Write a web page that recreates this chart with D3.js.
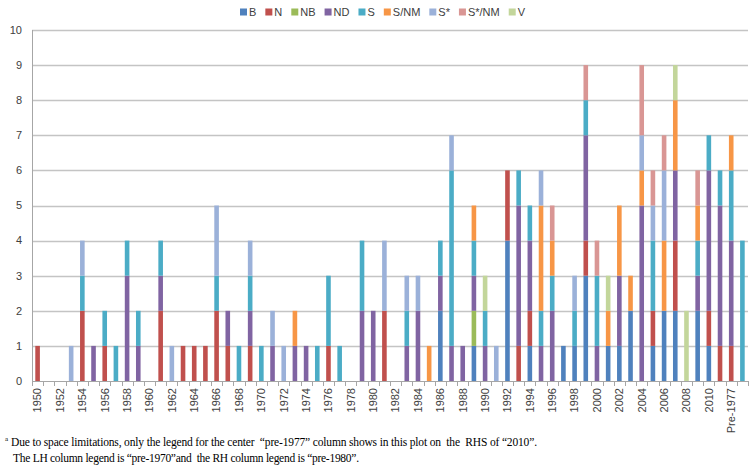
<!DOCTYPE html>
<html>
<head>
<meta charset="utf-8">
<script src="https://cdn.jsdelivr.net/npm/d3@7"></script>
<style>
  body { margin: 0; background: #fff; }
  svg text { font-family: "Liberation Sans", Arial, sans-serif; }
  svg .note text { font-family: "Liberation Serif", "Times New Roman", serif; white-space: pre; }
</style>
</head>
<body>
<div class="chart-container"></div>
<script>
document.addEventListener('DOMContentLoaded', function() {

    // categories: 1950..2010, then the three "pre" columns
    const years = d3.range(1950, 2011).map(String);
    const categories = years.concat(["Pre-1970", "Pre-1977", "Pre-1980"]);

    const seriesNames = ["B", "N", "NB", "ND", "S", "S/NM", "S*", "S*/NM", "V"];
    const seriesColors = ["#4f81bd", "#c0504d", "#9bbb59", "#8064a2", "#4bacc6", "#f79646", "#9bb1d9", "#d99694", "#c3d69b"];

    // one value per category, in category order (1950 ... 2010, pre-1970, pre-1977, pre-1980)
    const B = [0,0,0,0,0,0,0,0,0,0, 0,0,0,0,0,0,0,0,0,0, 0,0,0,0,0,0,0,0,0,0,
               0,0,0,0,0,0,2,0,0,1, 0,0,4,0,1,0,0,1,1,3, 0,1,1,2,0,1,2,2,0,2, 1, 0,0,0];
    const N = [1,0,0,0,2,0,1,0,0,0, 0,2,0,1,1,1,2,1,0,1, 0,0,0,0,0,0,1,0,0,0,
               0,2,0,0,0,0,0,0,0,0, 0,0,2,1,1,0,0,0,0,1, 0,0,0,0,0,1,0,2,0,0, 1, 1,1,0];
    const NB = [0,0,0,0,0,0,0,0,0,0, 0,0,0,0,0,0,0,0,0,0, 0,0,0,0,0,0,0,0,0,0,
               0,0,0,0,0,0,0,0,0,1, 0,0,0,0,0,0,0,0,0,0, 0,0,0,0,0,0,0,0,0,0, 0, 0,0,0];
    const ND = [0,0,0,0,0,1,0,0,3,1, 0,1,0,0,0,0,0,1,0,1, 0,1,0,1,1,0,0,0,0,2,
               2,0,0,1,2,0,1,1,1,1, 1,0,0,4,2,1,2,0,0,3, 1,0,2,0,5,0,0,2,0,1, 4, 4,3,0];
    const S = [0,0,0,0,1,0,1,1,1,1, 0,1,0,0,0,0,1,0,1,1, 1,0,0,0,0,1,2,1,0,2,
               0,0,0,1,0,0,1,5,0,1, 1,0,0,1,1,1,1,0,1,1, 2,0,0,0,0,2,0,0,0,1, 1, 1,2,4];
    const SNM = [0,0,0,0,0,0,0,0,0,0, 0,0,0,0,0,0,0,0,0,0, 0,0,0,1,0,0,0,0,0,0,
               0,0,0,0,0,1,0,0,0,1, 0,0,0,0,0,3,1,0,0,0, 0,1,2,1,1,0,2,2,0,1, 0, 0,1,0];
    const Sstar = [0,0,0,1,1,0,0,0,0,0, 0,0,1,0,0,0,2,0,0,1, 0,1,1,0,0,0,0,0,0,0,
               0,2,0,1,1,0,0,1,0,0, 0,1,0,0,0,1,0,0,1,0, 0,0,0,0,1,1,2,0,0,0, 0, 0,0,0];
    const SstarNM = [0,0,0,0,0,0,0,0,0,0, 0,0,0,0,0,0,0,0,0,0, 0,0,0,0,0,0,0,0,0,0,
               0,0,0,0,0,0,0,0,0,0, 0,0,0,0,0,0,1,0,0,1, 1,0,0,0,2,1,1,0,0,1, 0, 0,0,0];
    const V = [0,0,0,0,0,0,0,0,0,0, 0,0,0,0,0,0,0,0,0,0, 0,0,0,0,0,0,0,0,0,0,
               0,0,0,0,0,0,0,0,0,0, 1,0,0,0,0,0,0,0,0,0, 0,1,0,0,0,0,0,1,2,0, 0, 0,0,0];

    const yTicks = d3.range(0, 11);

    const seriesValues = [B, N, NB, ND, S, SNM, Sstar, SstarNM, V];

    const table = categories.map((c, i) => {
        const row = { cat: c };
        seriesNames.forEach((s, k) => row[s] = seriesValues[k][i]);
        return row;
    });

    const width = 750, height = 471;

    const svg = d3.select(".chart-container")
        .append("svg")
        .attr("width", width)
        .attr("height", height);

    // one band per category, ticks sit on the band edges
    const xStep = d3.scaleBand().domain(categories).range([32, 748]);

    const y = d3.scaleLinear()
        .domain([0, 10])
        .range([381, 30]);

    const color = d3.scaleOrdinal().domain(seriesNames).range(seriesColors);

    // gridlines
    svg.append("g")
        .selectAll("line")
        .data(yTicks.slice(1))
        .join("line")
        .attr("x1", 32)
        .attr("x2", 748)
        .attr("y1", d => Math.round(y(d)) + 0.5)
        .attr("y2", d => Math.round(y(d)) + 0.5)
        .attr("stroke", "#c4c4c4")
        .attr("stroke-width", 1.3);

    // stacked bars
    const stacked = d3.stack().keys(seriesNames)(table);

    svg.append("g")
        .selectAll("g")
        .data(stacked)
        .join("g")
        .attr("fill", d => color(d.key))
        .selectAll("rect")
        .data(d => d.filter(e => e[1] > e[0]))
        .join("rect")
        .attr("x", d => xStep(d.data.cat) + xStep.bandwidth() / 2 - 2.3)
        .attr("width", 4.6)
        .attr("y", d => y(d[1]))
        .attr("height", d => y(d[0]) - y(d[1]));

    // y axis
    svg.append("line")
        .attr("x1", 32.5).attr("x2", 32.5)
        .attr("y1", y(10)).attr("y2", y(0))
        .attr("stroke", "#a6a6a6");

    svg.append("g")
        .selectAll("text")
        .data(yTicks)
        .join("text")
        .attr("x", 22)
        .attr("y", d => y(d))
        .attr("dy", "0.35em")
        .attr("text-anchor", "end")
        .attr("font-size", 11)
        .attr("fill", "#404040")
        .text(d => d);

    // x axis
    svg.append("line")
        .attr("x1", 32).attr("x2", 748)
        .attr("y1", 381.5).attr("y2", 381.5)
        .attr("stroke", "#a6a6a6");

    svg.append("g")
        .selectAll("line")
        .data(categories.concat([null]))
        .join("line")
        .attr("x1", (d, i) => Math.round(32 + i * xStep.step()) + 0.5)
        .attr("x2", (d, i) => Math.round(32 + i * xStep.step()) + 0.5)
        .attr("y1", 381)
        .attr("y2", 386)
        .attr("stroke", "#a6a6a6");

    svg.append("g")
        .selectAll("text")
        .data(categories.filter((d, i) => i % 2 === 0))
        .join("text")
        .attr("transform", d => `translate(${xStep(d) + xStep.bandwidth() / 2},388)rotate(-90)`)
        .attr("dy", "0.35em")
        .attr("text-anchor", "end")
        .attr("font-size", 11)
        .attr("fill", "#404040")
        .text(d => d);

    // legend
    const legend = svg.append("g").attr("transform", "translate(240,12)");
    let lx = 0;
    seriesNames.forEach((s, k) => {
        const g = legend.append("g").attr("transform", `translate(${lx},0)`);
        g.append("rect")
            .attr("x", 0).attr("y", -3.5)
            .attr("width", 7).attr("height", 7)
            .attr("fill", seriesColors[k]);
        const t = g.append("text")
            .attr("x", 9)
            .attr("dy", "0.35em")
            .attr("font-size", 11)
            .attr("fill", "#404040")
            .text(s);
        lx += 9 + t.node().getComputedTextLength() + 9;
    });

    // footnote
    const note = svg.append("g").attr("class", "note");
    note.append("text")
        .attr("x", 5).attr("y", 441)
        .attr("font-size", 7)
        .text("a");
    note.append("text")
        .attr("x", 11).attr("y", 446)
        .attr("font-size", 11.5)
        .attr("textLength", 526)
        .attr("lengthAdjust", "spacing")
        .text("Due to space limitations, only the legend for the center  \u201cpre-1977\u201d column shows in this plot on  the  RHS of \u201c2010\u201d.");
    note.append("text")
        .attr("x", 13).attr("y", 462)
        .attr("font-size", 11.5)
        .attr("textLength", 346)
        .attr("lengthAdjust", "spacing")
        .text("The LH column legend is \u201cpre-1970\u201dand  the RH column legend is \u201cpre-1980\u201d.");
});
</script>
</body>
</html>
